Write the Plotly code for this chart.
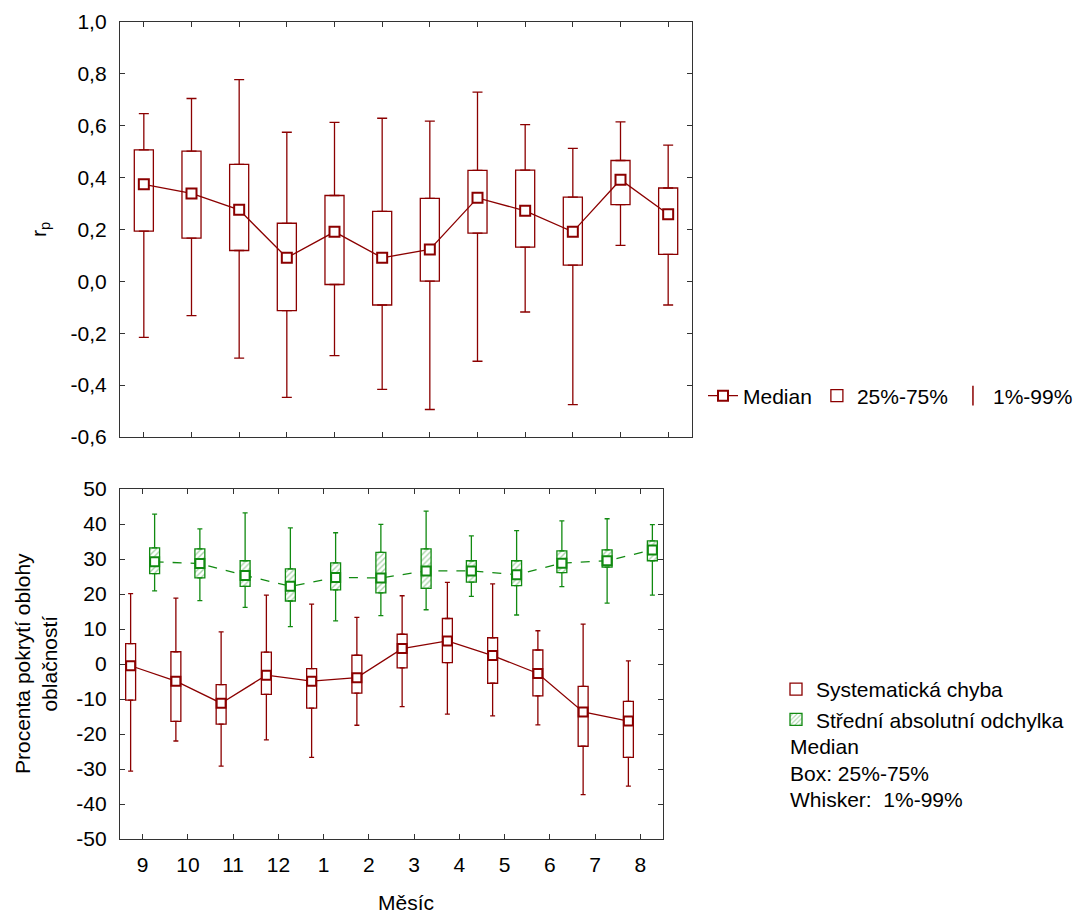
import numpy as np
import plotly.graph_objects as go

# ---------------- data ----------------
months = ["9", "10", "11", "12", "1", "2", "3", "4", "5", "6", "7", "8"]

# top panel: r_p
rp_p1 = [-0.216, -0.132, -0.296, -0.447, -0.286, -0.416, -0.494, -0.308, -0.118, -0.475, 0.139, -0.091]
rp_q1 = [0.194, 0.167, 0.119, -0.113, -0.012, -0.091, 0.001, 0.186, 0.132, 0.063, 0.296, 0.104]
rp_med = [0.374, 0.339, 0.276, 0.091, 0.191, 0.091, 0.123, 0.322, 0.272, 0.191, 0.392, 0.259]
rp_q3 = [0.507, 0.502, 0.451, 0.224, 0.331, 0.270, 0.320, 0.428, 0.429, 0.325, 0.466, 0.360]
rp_p99 = [0.647, 0.705, 0.778, 0.575, 0.613, 0.629, 0.618, 0.730, 0.604, 0.513, 0.615, 0.525]

# bottom panel: Systematická chyba
se_p1 = [-30.6, -22.0, -29.2, -21.7, -26.7, -17.5, -12.2, -14.3, -14.8, -17.4, -37.3, -34.9]
se_q1 = [-10.3, -16.4, -17.2, -8.7, -12.6, -8.3, -1.1, 0.4, -5.5, -9.1, -23.5, -26.7]
se_med = [-0.5, -4.9, -11.2, -3.2, -4.9, -3.9, 4.4, 6.6, 2.4, -2.7, -13.7, -16.3]
se_q3 = [5.8, 3.5, -5.9, 3.4, -1.3, 2.5, 8.5, 13.0, 7.5, 4.0, -6.4, -10.7]
se_p99 = [20.1, 18.8, 9.2, 19.7, 17.1, 13.3, 19.5, 23.3, 22.9, 9.5, 11.4, 0.9]

# bottom panel: Střední absolutní odchylka
mad_p1 = [20.9, 18.1, 16.2, 10.7, 12.3, 13.8, 15.5, 19.3, 14.0, 22.1, 17.4, 19.7]
mad_q1 = [25.8, 24.6, 22.2, 18.0, 21.2, 20.3, 21.6, 23.4, 22.4, 26.1, 27.7, 29.5]
mad_med = [29.2, 28.7, 25.3, 22.2, 24.7, 24.6, 26.6, 26.6, 25.5, 28.8, 29.5, 32.6]
mad_q3 = [33.2, 32.9, 29.5, 27.2, 28.9, 31.9, 32.9, 29.5, 29.5, 32.3, 32.6, 35.2]
mad_p99 = [42.8, 38.6, 43.2, 38.9, 37.5, 39.9, 43.7, 36.6, 38.1, 40.9, 41.5, 39.8]

rp_tickvals = [-0.6, -0.4, -0.2, 0.0, 0.2, 0.4, 0.6, 0.8, 1.0]
rp_ticktext = ["-0,6", "-0,4", "-0,2", "0,0", "0,2", "0,4", "0,6", "0,8", "1,0"]
pc_tickvals = [-50, -40, -30, -20, -10, 0, 10, 20, 30, 40, 50]
pc_ticktext = ["-50", "-40", "-30", "-20", "-10", "0", "10", "20", "30", "40", "50"]
note_lines = ["Median", "Box: 25%-75%", "Whisker:  1%-99%"]

# ---------------- styles ----------------
W, H = 1085, 913
RED = "#8B0000"
GREEN = "#118A11"
HATCH = "#55AA55"
FRAME = "#333333"
FONT = "Liberation Sans, Arial, sans-serif"
FS = 21


def fx(p):
    return p / W


def fy(p):
    return 1 - p / H


idx = np.arange(len(months))
fig = go.Figure()


def add_series(x, p1, q1, med, q3, p99, color, width, cap, xa, ya,
               box_marker, box_name, box_legend, legend_name, rank):
    p1, q1, med, q3, p99 = map(np.array, (p1, q1, med, q3, p99))
    fig.add_trace(go.Bar(
        x=x, y=q3 - q1, base=q1, width=width, marker=box_marker,
        name=box_name, showlegend=box_legend, legend=legend_name, legendrank=rank,
        xaxis=xa, yaxis=ya, hoverinfo="skip"))
    fig.add_trace(go.Scatter(
        x=x, y=q3, mode="markers", marker=dict(size=2, opacity=0),
        error_y=dict(type="data", symmetric=False, array=p99 - q3,
                     arrayminus=np.zeros_like(q3), width=cap,
                     thickness=1.3, color=color),
        showlegend=False, xaxis=xa, yaxis=ya, hoverinfo="skip"))
    fig.add_trace(go.Scatter(
        x=x, y=q1, mode="markers", marker=dict(size=2, opacity=0),
        error_y=dict(type="data", symmetric=False, array=np.zeros_like(q1),
                     arrayminus=q1 - p1, width=cap,
                     thickness=1.3, color=color),
        showlegend=False, xaxis=xa, yaxis=ya, hoverinfo="skip"))


# ---- top panel ----
add_series(idx, rp_p1, rp_q1, rp_med, rp_q3, rp_p99, RED, 0.4, 5, "x", "y",
           dict(color="white", line=dict(color=RED, width=1.3)),
           "25%-75%", True, "legend", 2)
fig.add_trace(go.Scatter(
    x=idx, y=rp_med, mode="lines+markers", name="Median", legend="legend",
    line=dict(color=RED, width=1.3),
    marker=dict(symbol="square", size=10, color="white", line=dict(color=RED, width=2)),
    xaxis="x", yaxis="y", legendrank=1))
fig.add_trace(go.Scatter(
    x=[None], y=[None], mode="markers", name="1%-99%", legend="legend",
    marker=dict(symbol="line-ns", size=14, line=dict(color=RED, width=1.5)),
    xaxis="x", yaxis="y", legendrank=3))

# ---- bottom panel ----
off = 0.265
bw = 0.22
add_series(idx - off, se_p1, se_q1, se_med, se_q3, se_p99, RED, bw, 2.5, "x2", "y2",
           dict(color="white", line=dict(color=RED, width=1.3)),
           "Systematická chyba", True, "legend2", 1)
add_series(idx + off, mad_p1, mad_q1, mad_med, mad_q3, mad_p99, GREEN, bw, 2.5, "x2", "y2",
           dict(color="white", line=dict(color=GREEN, width=1.3),
                pattern=dict(shape="/", fgcolor=HATCH, bgcolor="white", size=4, solidity=0.35)),
           "Střední absolutní odchylka", True, "legend2", 2)
fig.add_trace(go.Scatter(
    x=idx - off, y=se_med, mode="lines+markers", showlegend=False,
    line=dict(color=RED, width=1.3),
    marker=dict(symbol="square", size=9, color="white", line=dict(color=RED, width=2)),
    xaxis="x2", yaxis="y2"))
fig.add_trace(go.Scatter(
    x=idx + off, y=mad_med, mode="lines+markers", showlegend=False,
    line=dict(color=GREEN, width=1.3, dash="dash"),
    marker=dict(symbol="square", size=9, color="white", line=dict(color=GREEN, width=2)),
    xaxis="x2", yaxis="y2"))

axis_common = dict(showline=True, linecolor=FRAME, linewidth=1.3, mirror="ticks",
                   ticks="inside", ticklen=5, tickwidth=1.2, tickcolor=FRAME,
                   showgrid=False, zeroline=False, automargin=False,
                   tickfont=dict(family=FONT, size=FS, color="black"))

notes = [dict(text=t, x=fx(788), y=fy(yy), xref="paper", yref="paper",
              xanchor="left", yanchor="middle", align="left", showarrow=False,
              font=dict(family=FONT, size=FS))
         for t, yy in zip(note_lines, [746, 773, 799])]

fig.update_layout(
    width=W, height=H, autosize=False,
    margin=dict(l=0, r=0, t=0, b=0, autoexpand=False),
    paper_bgcolor="white", plot_bgcolor="white",
    font=dict(family=FONT, size=FS, color="black"),
    barmode="overlay",
    xaxis=dict(domain=[fx(120), fx(692)], range=[-0.5, 11.5], tickvals=idx,
               showticklabels=False, anchor="y", **axis_common),
    yaxis=dict(domain=[fy(437), fy(22)], range=[-0.6, 1.0], tickvals=rp_tickvals,
               ticktext=rp_ticktext, anchor="x", ticklabelstandoff=8, **axis_common),
    xaxis2=dict(domain=[fx(120), fx(663)], range=[-0.5, 11.5], tickvals=idx,
                ticktext=months, anchor="y2", ticklabelstandoff=7, **axis_common),
    yaxis2=dict(domain=[fy(839), fy(489)], range=[-50, 50], tickvals=pc_tickvals,
                ticktext=pc_ticktext, anchor="x2", ticklabelstandoff=8, **axis_common),
    legend=dict(orientation="h", x=fx(703), y=fy(396), xanchor="left", yanchor="middle",
                font=dict(family=FONT, size=FS, color="black"), itemwidth=30,
                bgcolor="rgba(0,0,0,0)", traceorder="normal"),
    legend2=dict(orientation="v", x=fx(776), y=fy(669), xanchor="left", yanchor="top",
                 font=dict(family=FONT, size=FS, color="black"), itemwidth=30,
                 bgcolor="rgba(0,0,0,0)"),
    showlegend=True,
    annotations=[
        dict(text="r<sub>p</sub>", x=fx(40), y=fy(230), xref="paper", yref="paper",
             xanchor="center", yanchor="middle",
             showarrow=False, textangle=-90, font=dict(family=FONT, size=FS)),
        dict(text="Procenta pokrytí oblohy<br>oblačností", x=fx(36), y=fy(664),
             xref="paper", yref="paper", xanchor="center", yanchor="middle",
             showarrow=False, textangle=-90, font=dict(family=FONT, size=FS)),
        dict(text="Měsíc", x=fx(406), y=fy(902), xref="paper", yref="paper",
             xanchor="center", yanchor="middle",
             showarrow=False, font=dict(family=FONT, size=FS)),
    ] + notes,
)

fig.write_html("out.html")
